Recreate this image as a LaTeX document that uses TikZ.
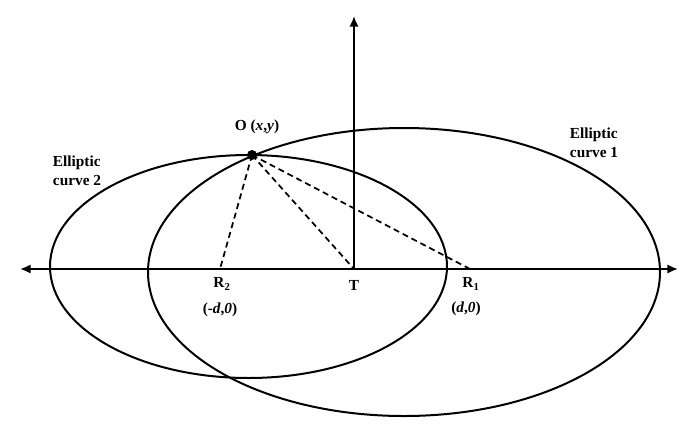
\documentclass[tikz,border=0pt]{standalone}
\usepackage{fontspec}
\setmainfont{Liberation Serif}
\usetikzlibrary{arrows.meta}

\begin{document}
\begin{tikzpicture}[x=0.75pt,y=0.75pt,yscale=-1,xscale=1,
  curve/.style={line width=1.5pt},
  guide/.style={line width=1.3pt,dash pattern=on 4.5pt off 3pt},
  axis/.style={line width=1.5pt,{Latex[length=8pt,width=7pt]}-{Latex[length=8pt,width=7pt]}},
  lbl/.style={inner sep=0.75pt,font=\fontsize{11.5}{14}\selectfont\bfseries}]
\useasboundingbox (0,0) rectangle (699,429);

% Points
\coordinate (L) at (20,269);
\coordinate (R) at (678,269);
\coordinate (T) at (354,269);
\coordinate (Up) at (354,16);
\coordinate (R2) at (220,269);
\coordinate (R1) at (470,269);
\coordinate (O) at (252,155);

%Ellipse [id:curve1] 
\draw [curve] (404,272) ellipse [x radius=256, y radius=144];
%Ellipse [id:curve2] 
\draw [curve] (248.5,266.5) ellipse [x radius=198.5, y radius=111.5];

%Straight Lines [id:axis] 
\draw [axis] (L) -- (R) ;
\draw [curve,-{Latex[length=8pt,width=7pt]}] (T) -- (Up) ;

%Dashed Lines 
\draw [guide] (O) -- (R2) ;
\draw [guide] (O) -- (T) ;
\draw [guide] (O) -- (R1) ;

%Shape: Circle 
\fill (O) circle [radius=5];

% Text Node
\node [lbl] (Olbl) at (257,127) {O (\textit{x},\textit{y})};
% Text Node
\node [lbl,align=left] (c2lbl) at (77,171) {Elliptic\\curve 2};
% Text Node
\node [lbl,align=left] (c1lbl) at (594,143) {Elliptic\\curve 1};
% Text Node
\node [lbl] (R2lbl) at (222,284) {R\textsubscript{2}};
% Text Node
\node [lbl] (R2co) at (220,310) {(-\textit{d},\textit{0})};
% Text Node
\node [lbl] (Tlbl) at (354,285) {T};
% Text Node
\node [lbl] (R1lbl) at (471,284) {R\textsubscript{1}};
% Text Node
\node [lbl] (R1co) at (466,309) {(\textit{d},\textit{0})};

\end{tikzpicture}
\end{document}
